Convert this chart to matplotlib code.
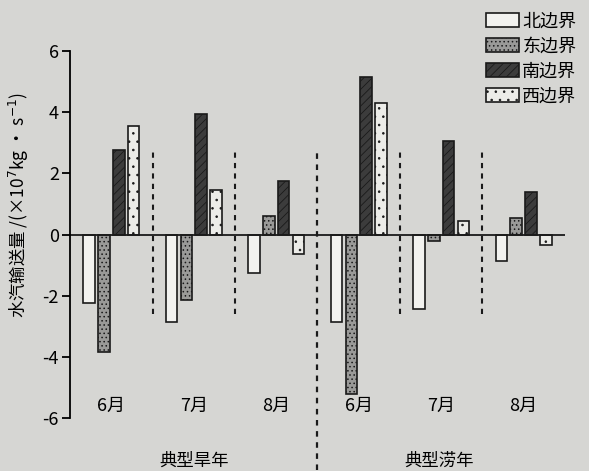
import matplotlib.pyplot as plt
import numpy as np

plt.rcParams['font.family'] = ['Noto Sans CJK SC', 'DejaVu Sans']

# 数据：典型旱年 6/7/8 月，典型涝年 6/7/8 月
月份 = ['6月', '7月', '8月', '6月', '7月', '8月']
年型 = ['典型旱年', '典型涝年']
边界 = ['北边界', '东边界', '南边界', '西边界']
北边界 = [-2.25, -2.85, -1.25, -2.85, -2.45, -0.85]
东边界 = [-3.85, -2.15, 0.6, -5.2, -0.2, 0.55]
南边界 = [2.75, 3.95, 1.75, 5.15, 3.05, 1.4]
西边界 = [3.55, 1.45, -0.65, 4.3, 0.45, -0.35]

bg = '#d6d6d3'
fig = plt.figure(figsize=(5.89, 4.71), dpi=100, facecolor=bg)
ax = fig.add_axes([0.119, 0.1125, 0.84, 0.779])
ax.set_facecolor(bg)

x = np.arange(len(月份))
w = 0.14
offsets = [-0.27, -0.09, 0.09, 0.27]
estilos = [
    dict(color='#f2f2ef', hatch=None),
    dict(color='#9a9a98', hatch='....'),
    dict(color='#3c3c3c', hatch='////'),
    dict(color='#ecece8', hatch='..'),
]
plt.rcParams['hatch.linewidth'] = 0.6
series = [北边界, 东边界, 南边界, 西边界]
handles = []
for vals, off, est, nombre in zip(series, offsets, estilos, 边界):
    b = ax.bar(x + off, vals, w, facecolor=est['color'], edgecolor='#1a1a1a',
               linewidth=1.2, hatch=est['hatch'], label=nombre)
    handles.append(b)

# 零线
ax.axhline(0, color='#1a1a1a', linewidth=1.3)

# 月份之间的虚线
for xv in [0.5, 1.5, 3.5, 4.5]:
    ax.plot([xv, xv], [-2.6, 2.7], color='#1a1a1a', linestyle=(0, (2.5, 2.5)), linewidth=1.5)
ax.plot([2.5, 2.5], [-7.7, 2.7], color='#1a1a1a', linestyle=(0, (2.5, 2.5)),
        linewidth=1.6, clip_on=False)

ax.set_xlim(-0.5, 5.5)
ax.set_ylim(-6, 6)
ax.set_yticks([-6, -4, -2, 0, 2, 4, 6])
ax.set_yticklabels(['-6', '-4', '-2', '0', '2', '4', '6'], fontsize=13)
ax.tick_params(axis='y', direction='out', length=6, width=1.3, pad=2)
ax.set_xticks([])
for s in ['top', 'right', 'bottom']:
    ax.spines[s].set_visible(False)
ax.spines['left'].set_linewidth(1.3)

for xi, m in zip(x, 月份):
    ax.text(xi, -5.6, m, ha='center', va='center', fontsize=13)
ax.text(1.0, -7.4, 年型[0], ha='center', va='center', fontsize=12.5, clip_on=False)
ax.text(3.98, -7.4, 年型[1], ha='center', va='center', fontsize=12.5, clip_on=False)

ax.set_ylabel('水汽输送量 /(×10$^7$kg · s$^{-1}$)', fontsize=12.5)
ax.yaxis.set_label_coords(-0.078, 0.58)

fig.legend(handles=handles, loc='upper right', bbox_to_anchor=(1.0, 1.0),
           frameon=False, fontsize=13, handlelength=1.8, handleheight=0.8,
           handletextpad=0.2, labelspacing=0.38, borderaxespad=0.3)

fig.savefig('out.png', dpi=100, facecolor=bg)
